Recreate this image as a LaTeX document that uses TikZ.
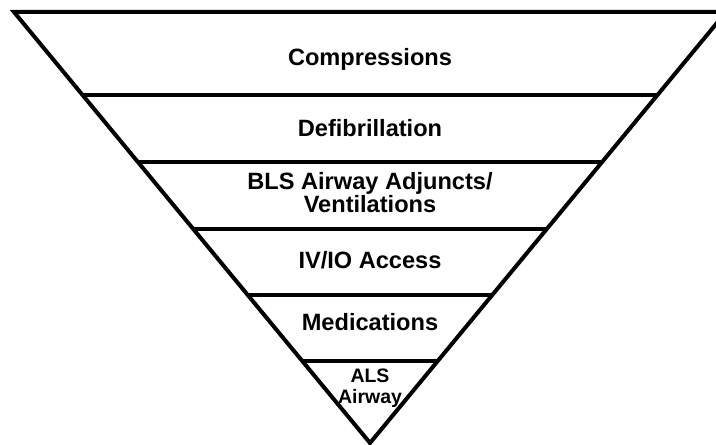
\documentclass[tikz,border=0pt]{standalone}
\usepackage{fontspec}
\setmainfont{Liberation Sans}
\usetikzlibrary{calc}

\tikzset{
  band/.style={font=\bfseries\fontsize{17.7}{17.25}\selectfont, align=center, anchor=base},
  tip/.style={font=\bfseries\fontsize{14.6}{15.75}\selectfont, align=center, anchor=base}
}

\begin{document}
\begin{tikzpicture}[x=0.75pt,y=-0.75pt, line width=3pt, line join=miter]
		\useasboundingbox (0,0) rectangle (716,445);

		% Funnel
		\coordinate (tl) at (14,12);
		\coordinate (tr) at (726,12);
		\coordinate (apex) at (370,443);
		\draw (tl) -- (tr) -- (apex) -- cycle;

		% Bands
		\foreach \y in {95, 162, 229, 295, 361}
			\draw ($(apex)!{(443-\y)/431}!(tl)$) -- ($(apex)!{(443-\y)/431}!(tr)$);

		% Labels
		\node[band] (comp) at (370,66) {Compressions};
		\node[band] (defib) at (370,137) {Defibrillation};
		\node[band] (bls) at (370,213) {BLS Airway Adjuncts/\\Ventilations};
		\node[band] (ivio) at (370,268) {IV/IO Access};
		\node[band] (meds) at (370,330) {Medications};
		\node[tip] (als) at (370,403) {ALS\\Airway};
	\end{tikzpicture}
\end{document}
